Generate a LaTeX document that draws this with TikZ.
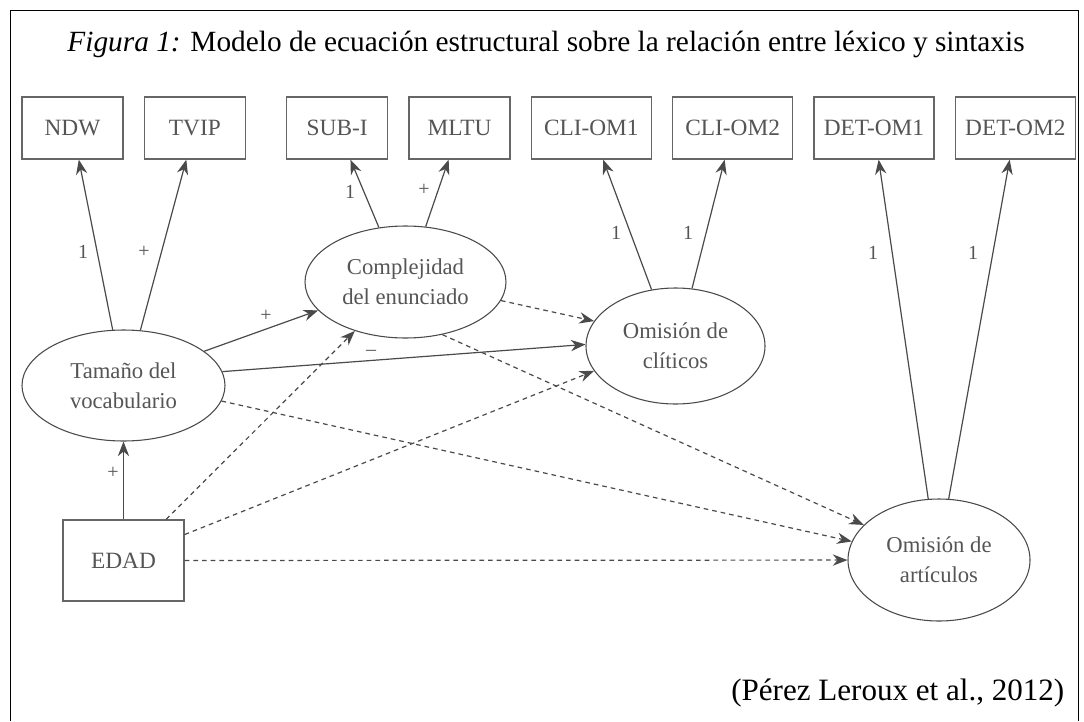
\documentclass[tikz,border=0pt]{standalone}
\usepackage{fontspec}
\setmainfont{Liberation Serif}
\usetikzlibrary{shapes.geometric, positioning, arrows.meta}
\definecolor{linegray}{HTML}{4A4A4A}
\definecolor{boxgray}{HTML}{666666}
\definecolor{textgray}{HTML}{555555}

\begin{document}
\begin{tikzpicture}[x=0.75pt, y=-0.75pt, node distance=15pt,
        >={Stealth[length=11pt,width=8.5pt]},
        obs/.style={draw=boxgray, rectangle, line width=1pt, minimum height=46.5pt, minimum width=75.75pt, inner sep=0pt, text=textgray, font=\fontsize{17.5}{20}\selectfont},
        wide/.style={minimum width=90pt},
        lat/.style={draw=linegray, ellipse, line width=0.8pt, inner sep=0pt, align=center, text=textgray, font=\fontsize{17}{22.5}\selectfont},
        lbl/.style={text=textgray, inner sep=0pt, font=\fontsize{15}{17}\selectfont},
        link/.style={->, draw=linegray, line width=0.9pt},
        dlink/.style={link, dash pattern=on 3.5pt off 3pt}]
        \useasboundingbox (0,0) rectangle (1084,721);
        \draw[line width=0.9pt] (10.5,721) -- (10.5,10.5) -- (1078.5,10.5) -- (1078.5,721);

        \node (title) [anchor=base, font=\fontsize{22}{25}\selectfont] at (546,51) {{\itshape Figura 1:} Modelo de ecuación estructural sobre la relación entre léxico y sintaxis};
        \node (source) [anchor=base east, font=\fontsize{23.3}{26}\selectfont] at (1069,700) {(Pérez Leroux et al., 2012)};

        % indicadores
        \node (ndw) [obs] at (72.5,128) {NDW};
        \node (tvip) [obs, right=of ndw] {TVIP};
        \node (subi) [obs, right=30pt of tvip] {SUB-I};
        \node (mltu) [obs, right=of subi] {MLTU};
        \node (clia) [obs, wide, right=of mltu] {CLI-OM1};
        \node (clib) [obs, wide, right=of clia] {CLI-OM2};
        \node (deta) [obs, wide, right=of clib] {DET-OM1};
        \node (detb) [obs, wide, right=of deta] {DET-OM2};

        % variables latentes
        \node (compl) [lat, minimum width=150.75pt, minimum height=84pt] at (405.5,282) {Complejidad\\del enunciado};
        \node (clit) [lat, minimum width=134.25pt, minimum height=87pt] at (675.5,346) {Omisión de\\clíticos};
        \node (tam) [lat, minimum width=152.25pt, minimum height=83.25pt] at (123.5,385.5) {Tamaño del\\vocabulario};
        \node (art) [lat, minimum width=136.5pt, minimum height=91.5pt] at (939,560) {Omisión de\\artículos};
        \node (edad) [obs, minimum width=90.75pt, minimum height=60.75pt] at (123.5,560.5) {EDAD};

        \draw[link] (tam.101) -- (ndw);
        \draw[link] (tam.73) -- (tvip);
        \draw[link] (compl.116) -- (subi);
        \draw[link] (compl.70) -- (mltu);
        \draw[link] (clit.113) -- (clia);
        \draw[link] (clit.74) -- (clib);
        \draw[link] (art.100) -- (deta);
        \draw[link] (art.81) -- (detb);
        \draw[link] (tam.23) -- (compl.198);
        \draw[link] (tam.8) -- (clit.179);
        \draw[link] (edad) -- (tam);
        \draw[dlink] (compl.-11) -- (clit.163);
        \draw[dlink] (compl.-55) -- (art.155);
        \draw[dlink] (tam.-9) -- (art.168);
        \draw[dlink] (edad.44) -- (compl.224);
        \draw[dlink] (edad.23) -- (clit.197);
        \draw[dlink] (edad) -- (art);

        % cargas
        \node (l-ndw) [lbl] at (83,252) {1};
        \node (l-tvip) [lbl] at (144,252) {+};
        \node (l-subi) [lbl] at (350,192) {1};
        \node (l-mltu) [lbl] at (424,190) {+};
        \node (l-clia) [lbl] at (616,233) {1};
        \node (l-clib) [lbl] at (688,233) {1};
        \node (l-deta) [lbl] at (873,253) {1};
        \node (l-detb) [lbl] at (973,253) {1};
        \node (l-compl) [lbl] at (266,316) {+};
        \node (l-clit) [lbl] at (371,353) {–};
        \node (l-edad) [lbl] at (113,473) {+};
    \end{tikzpicture}
\end{document}
